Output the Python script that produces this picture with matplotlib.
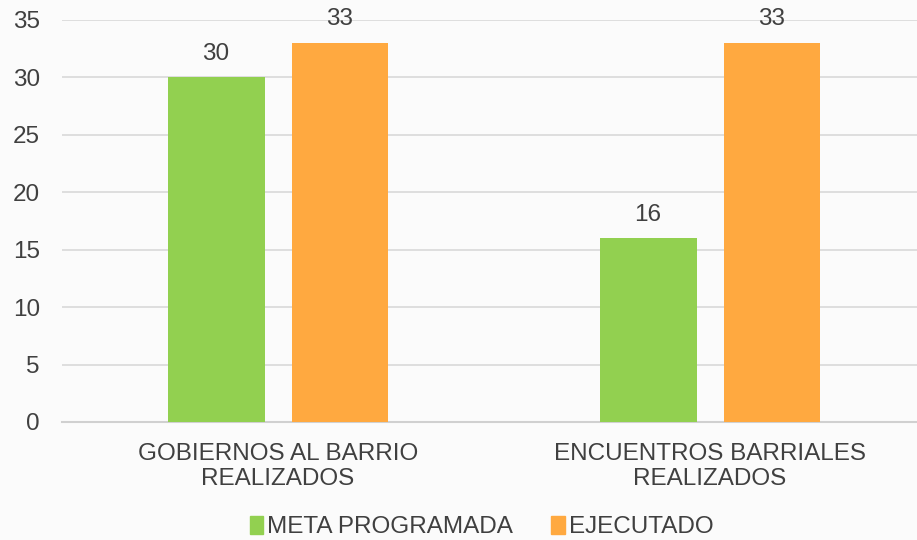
import numpy as np
import matplotlib.pyplot as plt
from matplotlib.patches import Patch

categories = ['GOBIERNOS AL BARRIO\nREALIZADOS', 'ENCUENTROS BARRIALES\nREALIZADOS']
meta = [30, 16]
ejecutado = [33, 33]
series_names = ['META PROGRAMADA', 'EJECUTADO']

green = '#92D050'
orange = '#FFA940'
txt = '#404040'

plt.rcParams['font.family'] = ['Liberation Sans', 'DejaVu Sans']

fig = plt.figure(figsize=(9.17, 5.4), dpi=100)
fig.patch.set_facecolor('#FBFBFB')
ax = fig.add_axes([62 / 917, 1 - 422 / 540, 864 / 917, 402 / 540])
ax.set_facecolor('none')

x = np.arange(len(categories))
w = 0.2245
off = 0.1435
b1 = ax.bar(x - off, meta, w, color=green, zorder=3)
b2 = ax.bar(x + off, ejecutado, w, color=orange, zorder=3)

for bars in (b1, b2):
    for r in bars:
        ax.text(r.get_x() + r.get_width() / 2, r.get_height() + 1.1, f'{int(r.get_height())}',
                ha='center', va='bottom', fontsize=17.5, color=txt)

ax.set_xlim(-0.5, 1.5)
ax.set_ylim(0, 35)
ax.set_yticks(range(0, 36, 5))
ax.yaxis.grid(True, color='#D9D9D9', linewidth=1.2, zorder=0)
for s in ['top', 'right', 'left']:
    ax.spines[s].set_visible(False)
ax.spines['bottom'].set_color('#D0D0D0')
ax.spines['bottom'].set_linewidth(1.5)
ax.tick_params(axis='both', length=0, labelsize=17.5, colors=txt)
ax.tick_params(axis='y', pad=16)
ax.set_xticks(x)
ax.set_xticklabels(categories, fontsize=17.5, color=txt, linespacing=1.17)
ax.tick_params(axis='x', pad=15)

handles = [Patch(color=green), Patch(color=orange)]
fig.legend(handles, series_names, loc='lower center', bbox_to_anchor=(0.525, -0.037), ncol=2,
           frameon=False, fontsize=17.5, handlelength=0.55, handleheight=0.75, handletextpad=0.15,
           columnspacing=1.6, labelcolor=txt)

fig.savefig('out.png', dpi=100, facecolor=fig.get_facecolor())
